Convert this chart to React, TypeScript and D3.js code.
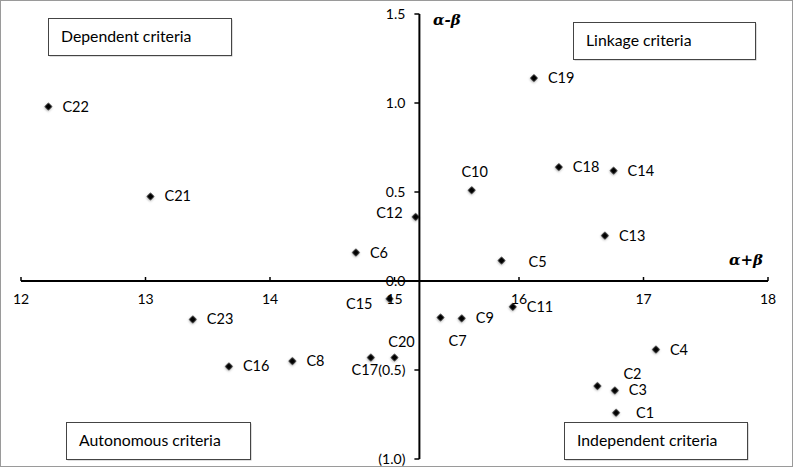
import React from "react";
import * as d3 from "d3";

// criteria names and their (alpha+beta, alpha-beta) coordinates
const criteria = ["C1", "C2", "C3", "C4", "C5", "C6", "C7", "C8", "C9", "C10", "C11", "C12",
  "C13", "C14", "C15", "C16", "C17", "C18", "C19", "C20", "C21", "C22", "C23"];
const sumValues = [16.78, 16.63, 16.77, 17.1, 15.86, 14.69, 15.37, 14.18, 15.54, 15.62, 15.95, 15.17,
  16.69, 16.76, 14.96, 13.67, 14.81, 16.32, 16.12, 15.0, 13.04, 12.22, 13.38];
const diffValues = [-0.74, -0.59, -0.615, -0.385, 0.115, 0.16, -0.205, -0.45, -0.21, 0.51, -0.145, 0.36,
  0.255, 0.62, -0.1, -0.48, -0.43, 0.64, 1.14, -0.43, 0.475, 0.98, -0.216];

const xTicks = [12, 13, 14, 15, 16, 17, 18];
const yTicks = [1.5, 1.0, 0.5, 0.0, -0.5, -1.0];
const xCross = 15.2; // where the vertical axis crosses

const quadrants = ["Dependent criteria", "Linkage criteria", "Autonomous criteria", "Independent criteria"];

// label placement (offset from the marker)
const labelPlacement: Record<string, [number, number, string]> = {
  C1: [20, 5, "start"],
  C2: [26, -7, "start"],
  C5: [27, 6, "start"],
  C7: [17, 29, "middle"],
  C10: [3, -13, "middle"],
  C12: [-13, 1, "end"],
  C15: [-17, 10, "end"],
  C17: [-6, 17, "middle"],
  C20: [7, -11, "middle"],
};

const boxes: Record<string, [number, number, number, number]> = {
  "Dependent criteria": [48, 18, 183, 37],
  "Linkage criteria": [573, 22, 182, 37],
  "Autonomous criteria": [66, 422, 184, 37],
  "Independent criteria": [564, 422, 183, 37],
};

const font = "Lato, 'Open Sans', sans-serif";

export default function App() {
  const x = d3.scaleLinear().domain([12, 18]).range([21, 768]);
  const y = d3.scaleLinear().domain([-1, 1.5]).range([459, 14]);
  const diamond = d3.symbol(d3.symbolSquare, 30)() as string;
  const fmt = (v: number) => (v < 0 ? `(${Math.abs(v).toFixed(1)})` : v.toFixed(1));

  return (
    <>
      <style>{"body{margin:0}"}</style>
      <svg width={794} height={469} style={{ display: "block", background: "#fff" }}>
        <defs>
          <filter id="sh" x="-1" y="-1" width="3" height="3">
            <feDropShadow dx="0.5" dy="1" stdDeviation="1.2" floodColor="#000" floodOpacity="0.35" />
          </filter>
        </defs>
        <rect x={0.5} y={0.5} width={792} height={466} fill="#fff" stroke="#9a9a9a" />

        {/* x axis */}
        <line x1={x(12)} x2={x(18)} y1={y(0)} y2={y(0)} stroke="#000" strokeWidth={2} />
        {xTicks.map((t) => (
          <g key={t}>
            <line x1={x(t)} x2={x(t)} y1={y(0)} y2={y(0) - 4} stroke="#000" strokeWidth={1.5} />
            <text x={x(t)} y={y(0) + 23} textAnchor="middle" fontFamily={font} fontSize={14}>{t}</text>
          </g>
        ))}

        {/* y axis */}
        <line x1={x(xCross)} x2={x(xCross)} y1={y(1.5)} y2={y(-1)} stroke="#000" strokeWidth={2} />
        {yTicks.map((t) => (
          <g key={t}>
            <line x1={x(xCross) - 5} x2={x(xCross)} y1={y(t)} y2={y(t)} stroke="#000" strokeWidth={1.5} />
            <text x={x(xCross) - 14} y={y(t) + 5} textAnchor="end" fontFamily={font} fontSize={14}>{fmt(t)}</text>
          </g>
        ))}

        <text x={433} y={25} fontFamily="'DejaVu Serif', serif" fontStyle="italic" fontWeight="bold" fontSize={15}>α-β</text>
        <text x={729} y={265} fontFamily="'DejaVu Serif', serif" fontStyle="italic" fontWeight="bold" fontSize={15}>α+β</text>

        {/* quadrant boxes */}
        {quadrants.map((q) => {
          const [bx, by, bw, bh] = boxes[q];
          return (
            <g key={q}>
              <rect x={bx + 1.5} y={by + 1.5} width={bw} height={bh} fill="#bbb" />
              <rect x={bx + 0.5} y={by + 0.5} width={bw} height={bh} fill="#fff" stroke="#444" />
              <text x={bx + 13} y={by + 24} fontFamily={font} fontSize={15.8}>{q}</text>
            </g>
          );
        })}

        {/* points */}
        {criteria.map((c, i) => {
          const px = x(sumValues[i]);
          const py = y(diffValues[i]);
          const [dx, dy, anchor] = labelPlacement[c] || [14, 5, "start"];
          return (
            <g key={c}>
              <path d={diamond} transform={`translate(${px},${py}) rotate(45)`} fill="#000" filter="url(#sh)" />
              <text x={px + dx} y={py + dy} textAnchor={anchor as any} fontFamily={font} fontSize={14.5}>{c}</text>
            </g>
          );
        })}
      </svg>
    </>
  );
}
